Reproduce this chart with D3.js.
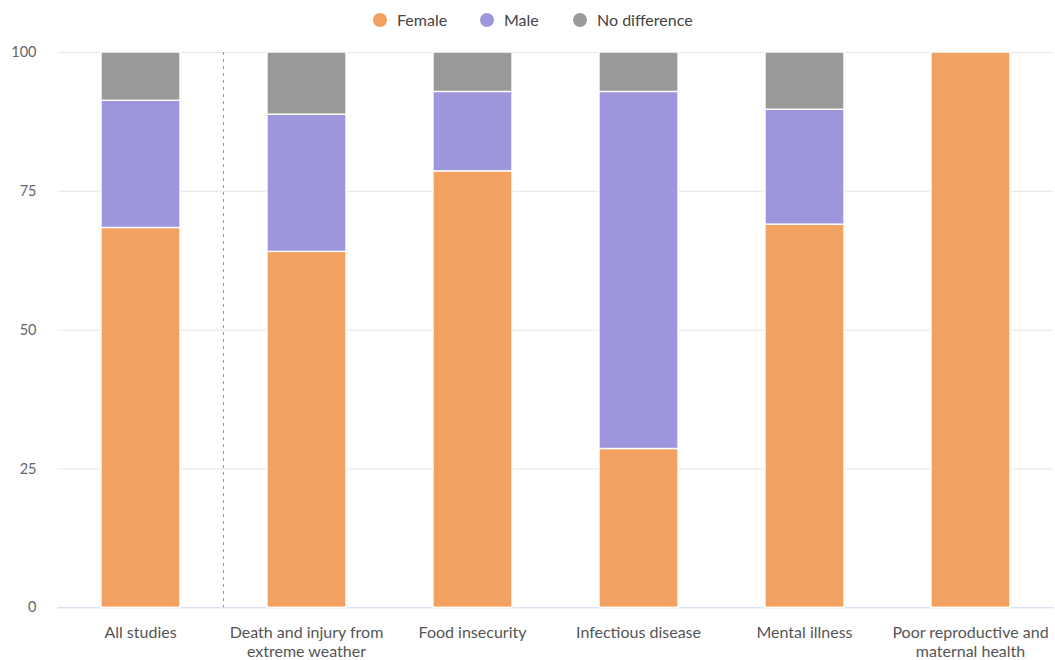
<!DOCTYPE html>
<html>
<head>
<meta charset="utf-8">
<script src="https://cdn.jsdelivr.net/npm/d3@7"></script>
<style>
  html, body { margin: 0; padding: 0; background: #fff; }
  svg { display: block; font-family: Lato, "Open Sans", sans-serif; }
</style>
</head>
<body>
<svg id="chart" width="1055" height="660"></svg>
<script>
// Share of studies (%) finding each sex more affected, by health outcome
const categories = [
  "All studies",
  "Death and injury from extreme weather",
  "Food insecurity",
  "Infectious disease",
  "Mental illness",
  "Poor reproductive and maternal health"
];
const categoryLines = [
  ["All studies"],
  ["Death and injury from", "extreme weather"],
  ["Food insecurity"],
  ["Infectious disease"],
  ["Mental illness"],
  ["Poor reproductive and", "maternal health"]
];
const female = [68.4, 64.1, 78.6, 28.6, 69.0, 100];
const male = [22.9, 24.7, 14.3, 64.3, 20.7, 0];
const noDifference = [8.7, 11.2, 7.1, 7.1, 10.3, 0];
const seriesNames = ["Female", "Male", "No difference"];
const seriesColors = ["#f3a160", "#9d96dc", "#999999"];
const yTicks = [0, 25, 50, 75, 100];

const svg = d3.select("#chart");
const margin = { top: 52, right: 1.5, bottom: 52.7, left: 57.5 };
const W = 1055, H = 660;

const x = d3.scaleBand()
  .domain(categories)
  .range([margin.left, W - margin.right])
  .paddingInner(0.524)
  .paddingOuter(0.262);

const y = d3.scaleLinear()
  .domain([0, 100])
  .range([H - margin.bottom, margin.top]);

// Gridlines and y labels
const yAxis = d3.axisLeft(y)
  .tickValues(yTicks)
  .tickSize(-(W - margin.left - margin.right))
  .tickPadding(21)
  .tickFormat(d3.format("d"));

const gy = svg.append("g")
  .attr("transform", `translate(${margin.left},0)`)
  .call(yAxis);
gy.select(".domain").remove();
gy.selectAll(".tick line")
  .attr("stroke", d => d === 0 ? "#ccd6eb" : "#e6e6e6")
  .attr("stroke-width", 1);
gy.selectAll(".tick text")
  .attr("fill", "#666")
  .attr("font-size", 14.5)
  .attr("font-family", "Lato, sans-serif");

// Stacked bars
const rows = categories.map((c, i) => ({
  category: c,
  Female: female[i],
  Male: male[i],
  "No difference": noDifference[i]
}));
const stack = d3.stack().keys(seriesNames);
const layers = stack(rows);

svg.append("g")
  .selectAll("g")
  .data(layers)
  .join("g")
  .attr("fill", (d, i) => seriesColors[i])
  .selectAll("rect")
  .data(d => d.filter(s => s[1] - s[0] > 0))
  .join("rect")
  .attr("x", d => x(d.data.category))
  .attr("width", x.bandwidth())
  .attr("y", d => y(d[1]))
  .attr("height", d => y(d[0]) - y(d[1]))
  .attr("stroke", "#fff")
  .attr("stroke-width", 1.4);

// Dashed separator between the overall bar and the individual outcomes
const sepX = (x(categories[0]) + x.bandwidth() + x(categories[1])) / 2;
svg.append("line")
  .attr("x1", sepX).attr("x2", sepX)
  .attr("y1", y(100)).attr("y2", y(0))
  .attr("stroke", "#999")
  .attr("stroke-width", 1)
  .attr("stroke-dasharray", "3,4");

// Category labels
const gx = svg.append("g");
categories.forEach((c, i) => {
  const t = gx.append("text")
    .attr("x", x(c) + x.bandwidth() / 2)
    .attr("y", y(0) + 31)
    .attr("text-anchor", "middle")
    .attr("fill", "#555")
    .attr("font-size", 16);
  categoryLines[i].forEach((line, j) => {
    t.append("tspan")
      .attr("x", x(c) + x.bandwidth() / 2)
      .attr("dy", j === 0 ? 0 : 19)
      .text(line);
  });
});

// Legend
const legendX = [380, 487, 580];
const legend = svg.append("g");
seriesNames.forEach((name, i) => {
  legend.append("circle")
    .attr("cx", legendX[i])
    .attr("cy", 20)
    .attr("r", 7)
    .attr("fill", seriesColors[i]);
  legend.append("text")
    .attr("x", legendX[i] + 17)
    .attr("y", 25.5)
    .attr("fill", "#444")
    .attr("font-size", 16)
    .text(name);
});
</script>
</body>
</html>
